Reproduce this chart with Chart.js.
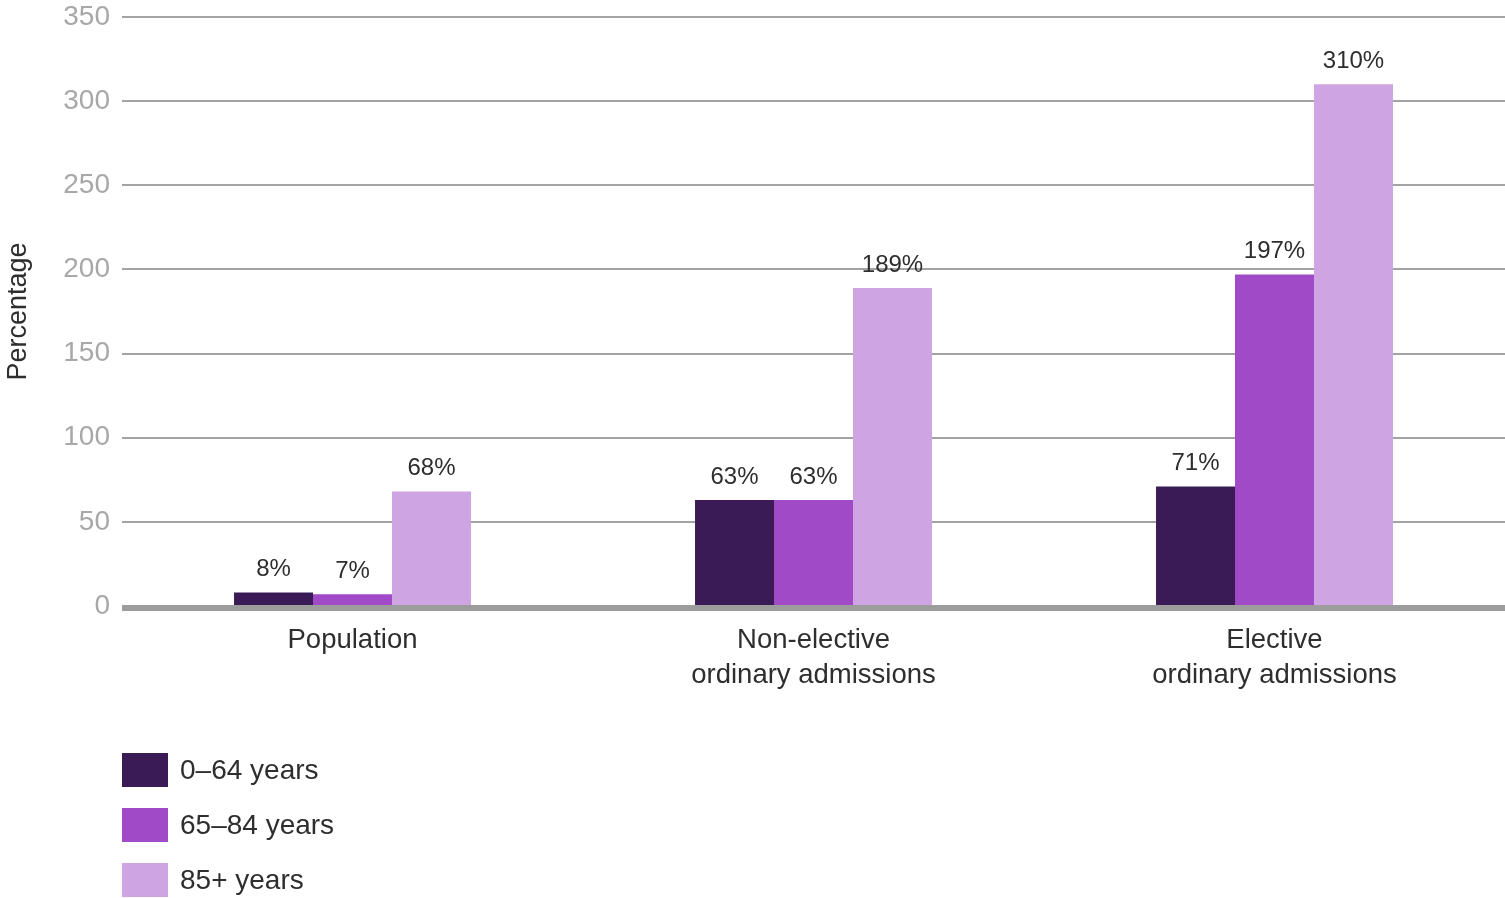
<!DOCTYPE html>
<html>
<head>
<meta charset="utf-8">
<script src="https://cdn.jsdelivr.net/npm/chart.js@4/dist/chart.umd.min.js"></script>
<style>
html,body{margin:0;padding:0;background:#fff;}
#wrap{position:relative;width:1505px;height:898px;}
</style>
</head>
<body>
<div id="wrap"><canvas id="c" width="1505" height="898"></canvas></div>
<script>
const categories = [["Population"], ["Non-elective", "ordinary admissions"], ["Elective", "ordinary admissions"]];
const seriesNames = ["0\u201364 years", "65\u201384 years", "85+ years"];
const age0to64 = [8, 63, 71];
const age65to84 = [7, 63, 197];
const age85plus = [68, 189, 310];
const yTicks = [0, 50, 100, 150, 200, 250, 300, 350];
const colors = ["#3b1b55", "#a04ac7", "#cea4e2"];

const FONT = "'Liberation Sans', Arial, sans-serif";

const valueLabels = {
  id: 'valueLabels',
  afterDatasetsDraw(chart) {
    const ctx = chart.ctx;
    const y0 = chart.scales.y.getPixelForValue(0);
    ctx.save();
    ctx.strokeStyle = '#9c9c9c';
    ctx.lineWidth = 6;
    ctx.beginPath();
    ctx.moveTo(chart.chartArea.left, y0 + 2);
    ctx.lineTo(chart.chartArea.right, y0 + 2);
    ctx.stroke();
    ctx.fillStyle = '#2e2e2e';
    ctx.font = '24px ' + FONT;
    ctx.textAlign = 'center';
    ctx.textBaseline = 'middle';
    chart.data.datasets.forEach((ds, i) => {
      chart.getDatasetMeta(i).data.forEach((bar, j) => {
        ctx.fillText(ds.data[j] + '%', bar.x, bar.y - 23);
      });
    });
    ctx.restore();
  }
};

const legendPlugin = {
  id: 'customLegend',
  afterDraw(chart) {
    const ctx = chart.ctx;
    ctx.save();
    ctx.font = '28px ' + FONT;
    ctx.textBaseline = 'middle';
    ctx.textAlign = 'left';
    chart.data.datasets.forEach((ds, i) => {
      const cy = 770 + i * 55;
      ctx.fillStyle = ds.backgroundColor;
      ctx.fillRect(122, cy - 17, 46, 34);
      ctx.fillStyle = '#2e2e2e';
      ctx.fillText(ds.label, 180, cy + 1);
    });
    ctx.restore();
  }
};

new Chart(document.getElementById('c'), {
  type: 'bar',
  data: {
    labels: categories,
    datasets: [
      { label: seriesNames[0], data: age0to64, backgroundColor: colors[0] },
      { label: seriesNames[1], data: age65to84, backgroundColor: colors[1] },
      { label: seriesNames[2], data: age85plus, backgroundColor: colors[2] }
    ]
  },
  options: {
    responsive: false,
    animation: false,
    layout: { padding: { top: 17, right: 0, bottom: 0, left: 0 } },
    datasets: { bar: { categoryPercentage: 0.514, barPercentage: 1.0, borderWidth: 0 } },
    plugins: { legend: { display: false }, tooltip: { enabled: false } },
    scales: {
      x: {
        grid: { display: false, drawTicks: false },
        border: { display: false },
        ticks: { color: '#2e2e2e', padding: 17, font: { family: FONT, size: 27.5, lineHeight: 1.28 }, maxRotation: 0, autoSkip: false },
        afterFit(scale) { scale.height = 292; scale.paddingLeft = 0; scale.paddingRight = 0; }
      },
      y: {
        min: 0, max: 350,
        afterBuildTicks(scale) { scale.ticks = yTicks.map(v => ({ value: v })); },
        grid: { color: '#a3a3a3', lineWidth: 2, drawTicks: false },
        border: { display: false },
        ticks: { color: '#a8a8a8', padding: 12, font: { family: FONT, size: 28 } },
        title: { display: true, text: 'Percentage', color: '#2e2e2e', font: { family: FONT, size: 27 }, padding: { top: 2, bottom: 0 } },
        afterFit(scale) { scale.width = 122; scale.paddingTop = 0; scale.paddingBottom = 0; }
      }
    }
  },
  plugins: [valueLabels, legendPlugin]
});
</script>
</body>
</html>
